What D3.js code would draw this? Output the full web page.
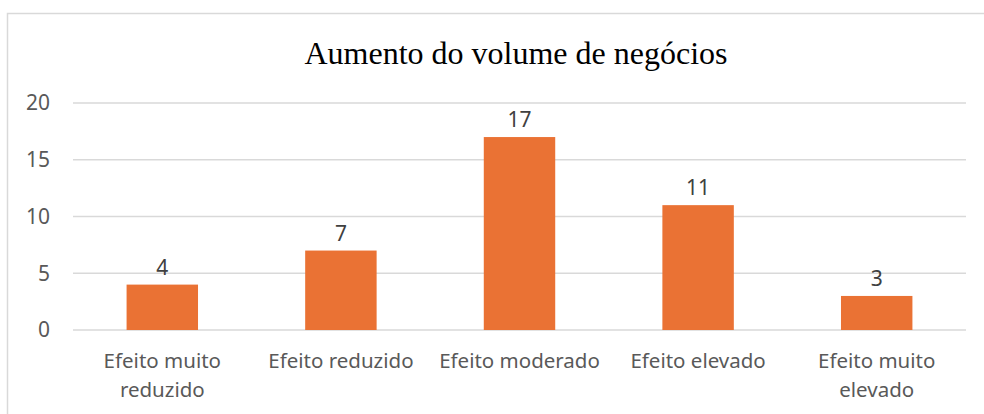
<!DOCTYPE html>
<html>
<head>
<meta charset="utf-8">
<script src="https://cdn.jsdelivr.net/npm/d3@7"></script>
<style>
  body { margin: 0; background: #fff; }
</style>
</head>
<body>
<div id="canvas"></div>
<script>
const categories = [
  ["Efeito muito", "reduzido"],
  ["Efeito reduzido"],
  ["Efeito moderado"],
  ["Efeito elevado"],
  ["Efeito muito", "elevado"]
];
const values = [4, 7, 17, 11, 3];
const yTicks = [0, 5, 10, 15, 20];
const title = "Aumento do volume de negócios";

function drawChart() {
  const width = 984;
  const height = 414;
  const margin = { top: 103, right: 18, bottom: 84, left: 73 };

  const svg = d3.select("#canvas")
    .append("svg")
    .attr("width", width)
    .attr("height", height);

  // chart frame
  svg.append("rect")
    .attr("x", 7.5)
    .attr("y", 13.5)
    .attr("width", width + 10)
    .attr("height", height + 10)
    .attr("fill", "none")
    .attr("stroke", "#d9d9d9")
    .attr("stroke-width", 1.5);

  svg.append("text")
    .attr("x", 516)
    .attr("y", 64)
    .attr("text-anchor", "middle")
    .style("font-family", "'Liberation Serif', 'Times New Roman', serif")
    .style("font-size", "32px")
    .style("fill", "#000")
    .text(title);

  const x = d3.scaleBand()
    .domain(d3.range(values.length))
    .range([margin.left, width - margin.right])
    .paddingInner(0.6)
    .paddingOuter(0.3);

  const y = d3.scaleLinear()
    .domain([0, 20])
    .range([height - margin.bottom, margin.top]);

  // gridlines
  svg.append("g")
    .selectAll("line")
    .data(yTicks)
    .enter()
    .append("line")
    .attr("x1", margin.left)
    .attr("x2", width - margin.right)
    .attr("y1", (d) => y(d))
    .attr("y2", (d) => y(d))
    .attr("stroke", "#d9d9d9")
    .attr("stroke-width", 1.5);

  // y tick labels
  svg.append("g")
    .selectAll("text")
    .data(yTicks)
    .enter()
    .append("text")
    .attr("x", 50)
    .attr("y", (d) => y(d))
    .attr("dy", "0.35em")
    .attr("text-anchor", "end")
    .style("font-family", "'Noto Sans', sans-serif")
    .style("font-size", "21px")
    .style("fill", "#595959")
    .text((d) => d);

  // bars
  svg.append("g")
    .selectAll("rect")
    .data(values)
    .enter()
    .append("rect")
    .attr("x", (_, i) => x(i))
    .attr("y", (d) => y(d))
    .attr("width", x.bandwidth())
    .attr("height", (d) => y(0) - y(d))
    .attr("fill", "#ea7234");

  // value labels
  svg.append("g")
    .selectAll("text")
    .data(values)
    .enter()
    .append("text")
    .attr("x", (_, i) => x(i) + x.bandwidth() / 2)
    .attr("y", (d) => y(d) - 10)
    .attr("text-anchor", "middle")
    .style("font-family", "'Noto Sans', sans-serif")
    .style("font-size", "21px")
    .style("fill", "#404040")
    .text((d) => d);

  // category labels
  const cat = svg.append("g")
    .selectAll("text")
    .data(categories)
    .enter()
    .append("text")
    .attr("x", (_, i) => x(i) + x.bandwidth() / 2)
    .attr("y", 368)
    .attr("text-anchor", "middle")
    .style("font-family", "'Noto Sans', sans-serif")
    .style("font-size", "20.5px")
    .style("fill", "#595959");

  cat.selectAll("tspan")
    .data((d) => d)
    .enter()
    .append("tspan")
    .attr("x", function () { return d3.select(this.parentNode).attr("x"); })
    .attr("dy", (_, j) => (j === 0 ? 0 : 29))
    .text((d) => d);
}

drawChart();
</script>
</body>
</html>
